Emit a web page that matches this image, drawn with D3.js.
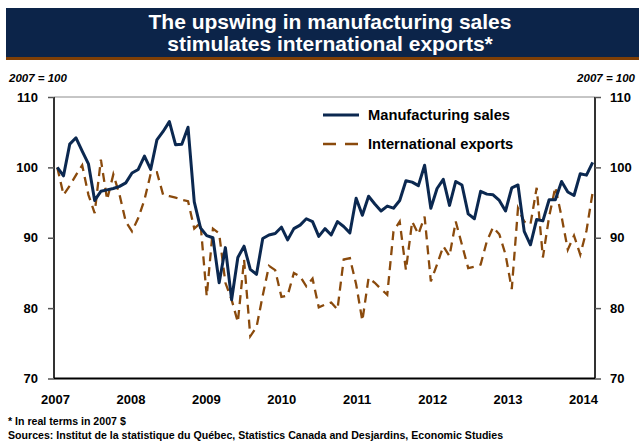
<!DOCTYPE html>
<html>
<head>
<meta charset="utf-8">
<script src="https://cdn.jsdelivr.net/npm/d3@7"></script>
<style>
  body { margin: 0; background: #fff; }
  svg { display: block; font-family: Arial, "Liberation Sans", sans-serif; }
</style>
</head>
<body>
<div id="chart"></div>
<script>
// monthly index, 2007 = 100, Jan 2007 .. Mar 2014
const manufacturing = [
  100.0, 98.8, 103.3, 104.2, 102.3, 100.5, 95.3, 96.6, 96.8, 97.0, 97.3, 97.8,
  99.2, 99.7, 101.6, 99.7, 103.9, 105.1, 106.5, 103.2, 103.3, 105.7, 95.1, 91.4,
  90.3, 90.0, 83.6, 88.6, 81.2, 87.2, 88.8, 85.5, 84.8, 89.9, 90.4, 90.6,
  91.5, 89.7, 91.3, 91.8, 92.7, 92.3, 90.2, 91.3, 90.4, 92.3, 91.6, 90.7,
  95.6, 93.2, 95.9, 94.8, 93.8, 94.5, 94.2, 95.3, 98.1, 97.9, 97.4, 100.3,
  94.2, 97.0, 98.3, 94.6, 98.0, 97.5, 93.4, 92.7, 96.6, 96.2, 96.1, 95.3,
  93.8, 97.1, 97.5, 90.9, 89.0, 92.6, 92.4, 95.4, 95.4, 98.0, 96.5, 96.0,
  99.1, 98.9, 100.7
];
const exports = [
  100.0, 96.1, 97.4, 98.9, 100.3, 96.1, 93.5, 101.1, 95.4, 99.0, 96.1, 92.3,
  90.9, 92.8, 95.4, 99.1, 99.3, 96.1, 95.9, 95.7, 95.4, 95.2, 91.3, 92.1,
  81.7, 91.3, 90.6, 83.6, 81.2, 78.0, 86.9, 76.0, 77.3, 81.8, 86.0, 85.4,
  81.6, 81.8, 85.0, 84.5, 83.1, 84.2, 80.1, 80.5, 80.8, 79.8, 86.9, 87.1,
  83.4, 78.2, 84.3, 83.6, 82.7, 81.9, 90.9, 92.3, 85.4, 92.3, 90.5, 93.0,
  83.8, 86.2, 88.8, 87.4, 92.3, 89.0, 85.7, 85.9, 86.2, 89.5, 91.5, 90.5,
  87.6, 82.7, 94.2, 92.3, 91.9, 97.1, 87.2, 93.0, 97.2, 93.0, 88.3, 90.3,
  87.6, 91.0, 96.5
];
const years = ["2007", "2008", "2009", "2010", "2011", "2012", "2013", "2014"];
const yTicks = [70, 80, 90, 100, 110];
const seriesNames = ["Manufacturing sales", "International exports"];

const W = 639, H = 442;
const navy = "#0b2850", brown = "#8a4a0c";
const plot = { left: 54, right: 595, top: 97, bottom: 378.5 };

const svg = d3.select("#chart").append("svg")
  .attr("width", W).attr("height", H);

// title banner
svg.append("rect").attr("x", 6).attr("y", 8).attr("width", W - 6).attr("height", 49)
  .attr("fill", "#0c2449");
svg.append("rect").attr("x", 6).attr("y", 57).attr("width", W - 6).attr("height", 3)
  .attr("fill", "#7f3f06");
svg.append("text").attr("x", 330).attr("y", 29).attr("text-anchor", "middle")
  .attr("fill", "#fff").attr("font-weight", "bold").attr("font-size", 21)
  .text("The upswing in manufacturing sales");
svg.append("text").attr("x", 330).attr("y", 51).attr("text-anchor", "middle")
  .attr("fill", "#fff").attr("font-weight", "bold").attr("font-size", 21)
  .text("stimulates international exports*");

// unit labels
svg.append("text").attr("x", 9).attr("y", 82).attr("font-size", 11.5)
  .attr("font-weight", "bold").attr("font-style", "italic").text("2007 = 100");
svg.append("text").attr("x", 635).attr("y", 82).attr("font-size", 11.5)
  .attr("text-anchor", "end")
  .attr("font-weight", "bold").attr("font-style", "italic").text("2007 = 100");

const x = d3.scaleLinear().domain([0, manufacturing.length - 1]).range([57.3, 592.7]);
const xYear = d3.scalePoint().domain(years).range([55, 583]);
const y = d3.scaleLinear().domain([70, 110]).range([plot.bottom, plot.top]);

// frame
svg.append("line").attr("x1", plot.left).attr("x2", plot.right)
  .attr("y1", plot.top).attr("y2", plot.top)
  .attr("stroke", "#8c8c8c").attr("stroke-width", 1);

const leftAxis = svg.append("g").attr("transform", `translate(${plot.left},0)`)
  .call(d3.axisLeft(y).tickValues(yTicks).tickSize(6).tickPadding(10));
const rightAxis = svg.append("g").attr("transform", `translate(${plot.right},0)`)
  .call(d3.axisRight(y).tickValues(yTicks).tickSize(6).tickPadding(9));
[leftAxis, rightAxis].forEach(g => {
  g.select(".domain").attr("stroke", "#333").attr("stroke-width", 2)
    .attr("d", `M0,${plot.top}V${plot.bottom}`);
  g.selectAll(".tick line").attr("stroke", "#555").attr("stroke-width", 1.5);
  g.selectAll(".tick text").attr("font-size", 13).attr("font-weight", "bold")
    .attr("fill", "#000").attr("font-family", "Arial, 'Liberation Sans', sans-serif");
});

const bottomAxis = svg.append("g").attr("transform", `translate(0,${plot.bottom})`)
  .call(d3.axisBottom(xYear).tickSize(0).tickPadding(16));
bottomAxis.select(".domain").attr("stroke", "#000").attr("stroke-width", 2)
  .attr("d", `M${plot.left},0H${plot.right}`);
bottomAxis.selectAll(".tick text").attr("font-size", 13).attr("font-weight", "bold")
  .attr("fill", "#000").attr("font-family", "Arial, 'Liberation Sans', sans-serif");

// series
const line = d3.line().x((d, i) => x(i)).y(d => y(d));
svg.append("path").datum(exports).attr("d", line)
  .attr("fill", "none").attr("stroke", brown).attr("stroke-width", 2.3)
  .attr("stroke-dasharray", "9,6");
svg.append("path").datum(manufacturing).attr("d", line)
  .attr("fill", "none").attr("stroke", navy).attr("stroke-width", 3)
  .attr("stroke-linejoin", "round");

// legend
const legend = svg.append("g").attr("transform", "translate(323,0)");
const legendRows = [
  { name: seriesNames[0], color: navy, dash: null, w: 3, yy: 115 },
  { name: seriesNames[1], color: brown, dash: "13,9", w: 2.5, yy: 144 }
];
legendRows.forEach(r => {
  legend.append("line").attr("x1", 0).attr("x2", 36).attr("y1", r.yy).attr("y2", r.yy)
    .attr("stroke", r.color).attr("stroke-width", r.w)
    .attr("stroke-dasharray", r.dash);
  legend.append("text").attr("x", 45).attr("y", r.yy + 5)
    .attr("font-size", 14.7).attr("font-weight", "bold").text(r.name);
});

// footnotes
svg.append("text").attr("x", 8).attr("y", 425).attr("font-size", 10.6)
  .attr("font-weight", "bold").text("* In real terms in 2007 $");
svg.append("text").attr("x", 8).attr("y", 439).attr("font-size", 10.6)
  .attr("font-weight", "bold")
  .text("Sources: Institut de la statistique du Québec, Statistics Canada and Desjardins, Economic Studies");
</script>
</body>
</html>
